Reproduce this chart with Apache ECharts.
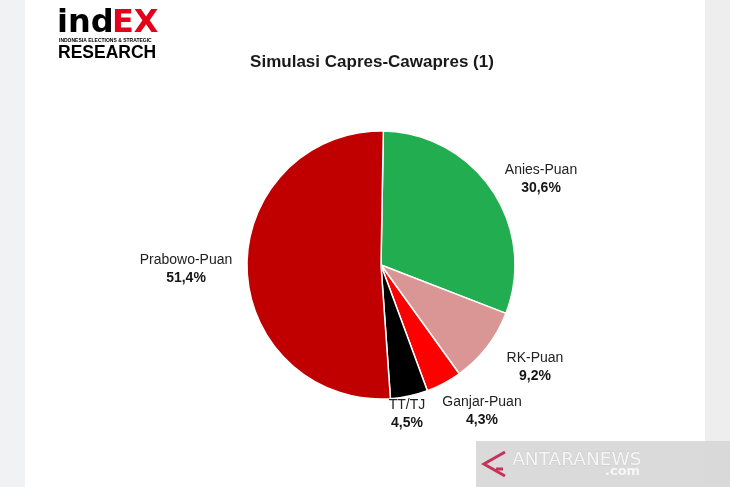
<!DOCTYPE html>
<html>
<head>
<meta charset="utf-8">
<script src="https://cdn.jsdelivr.net/npm/echarts@6/dist/echarts.min.js"></script>
<style>
  html, body { margin: 0; padding: 0; background: #ffffff; }
  #myChart { width: 730px; height: 487px; }
</style>
</head>
<body>
<div id="myChart"></div>
<script>
// data
var names = ['Anies-Puan', 'RK-Puan', 'Ganjar-Puan', 'TT/TJ', 'Prabowo-Puan'];
var values = [30.6, 9.2, 4.3, 4.5, 51.4];
var colors = ['#21ad50', '#d99694', '#fe0000', '#000000', '#c00000'];
// label anchor (center of the two-line label)
var labelPos = [[541, 179], [535, 367], [482, 411], [407, 414], [186, 269]];

var chart = echarts.init(document.getElementById('myChart'));

var option = {
  backgroundColor: '#ffffff',
  animation: false,
  title: {
    text: 'Simulasi Capres-Cawapres (1)',
    left: 367,
    top: 49,
    textAlign: 'center',
    textStyle: { fontFamily: 'Liberation Sans', fontSize: 17, fontWeight: 'bold', color: '#1a1a1a' }
  },
  graphic: [
    // side strips
    { type: 'rect', shape: { x: 0, y: 0, width: 25, height: 487 }, style: { fill: '#f1f2f4' }, z: -10 },
    { type: 'rect', shape: { x: 705, y: 0, width: 25, height: 487 }, style: { fill: '#eeeeee' }, z: -10 },
    // logo
    { type: 'text', left: 57, top: 8, style: { text: 'ind', fontFamily: 'DejaVu Sans', fontWeight: 'bold', fontSize: 32, fill: '#000000' } },
    { type: 'text', left: 112, top: 8, style: { text: 'EX', fontFamily: 'DejaVu Sans', fontWeight: 'bold', fontSize: 32, fill: '#e3001b' } },
    { type: 'text', left: 59, top: 38, style: { text: 'INDONESIA ELECTIONS & STRATEGIC', fontFamily: 'Liberation Sans', fontWeight: 'bold', fontSize: 5, fill: '#000000' } },
    { type: 'text', left: 58, top: 44, style: { text: 'RESEARCH', fontFamily: 'Liberation Sans', fontWeight: 'bold', fontSize: 17.5, fill: '#000000' } },
    // watermark
    { type: 'rect', shape: { x: 476, y: 441, width: 254, height: 46 }, style: { fill: '#d6d6d6', opacity: 0.9 }, z: 10 },
    { type: 'polyline', shape: { points: [[505, 452], [484, 464], [505, 476]] }, style: { stroke: '#c2345b', lineWidth: 3, fill: null }, z: 11 },
    { type: 'polyline', shape: { points: [[496, 469], [503, 469]] }, style: { stroke: '#c2345b', lineWidth: 3 }, z: 11 },
    { type: 'text', left: 512, top: 450, style: { text: 'ANTARANEWS', fontFamily: 'DejaVu Sans', fontSize: 18.5, fill: '#f6f6f6', stroke: '#b8b8b8', lineWidth: 0.4 }, z: 11 },
    { type: 'text', left: 605, top: 465, style: { text: '.com', fontFamily: 'DejaVu Sans', fontWeight: 'bold', fontSize: 13, fill: '#f6f6f6' }, z: 11 }
  ],
  series: [
    {
      type: 'pie',
      center: [381, 265],
      radius: 134,
      startAngle: 89,
      clockwise: true,
      itemStyle: { borderColor: '#ffffff', borderWidth: 1.5 },
      label: {
        show: true,
        position: 'outside',
        formatter: function (p) {
          return '{n|' + p.name + '}\n{v|' + p.value.toFixed(1).replace('.', ',') + '%}';
        },
        rich: {
          n: { fontFamily: 'Liberation Sans', fontSize: 14, color: '#222222', lineHeight: 18, align: 'center' },
          v: { fontFamily: 'Liberation Sans', fontSize: 14, fontWeight: 'bold', color: '#151515', lineHeight: 18, align: 'center' }
        }
      },
      labelLine: { show: false },
      labelLayout: function (params) {
        var pos = labelPos[params.dataIndex];
        return { x: pos[0], y: pos[1], align: 'center', verticalAlign: 'middle' };
      },
      data: names.map(function (n, i) {
        return { name: n, value: values[i], itemStyle: { color: colors[i] } };
      })
    }
  ]
};

chart.setOption(option);
</script>
</body>
</html>
